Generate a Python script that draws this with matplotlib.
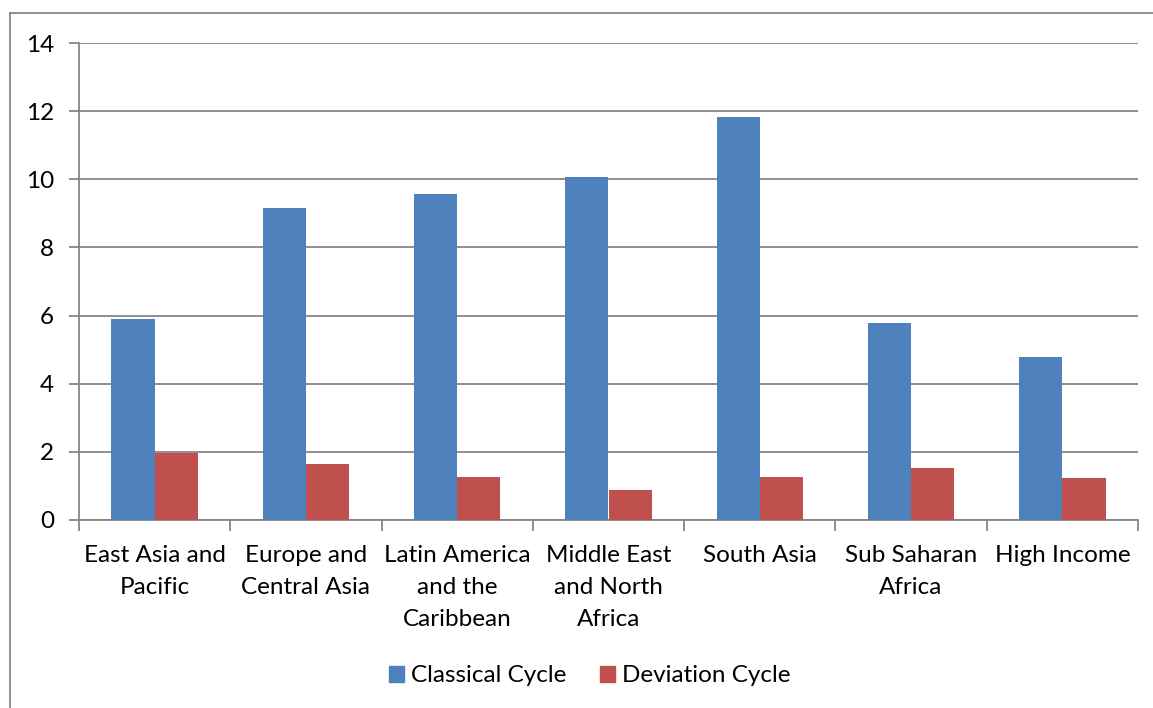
import matplotlib
matplotlib.use("Agg")
import matplotlib.pyplot as plt
from matplotlib.lines import Line2D
from matplotlib.patches import Patch
import numpy as np

plt.rcParams['font.family'] = ['Lato', 'DejaVu Sans']

regions = ['East Asia and\nPacific', 'Europe and\nCentral Asia', 'Latin America\nand the\nCaribbean',
           'Middle East\nand North\nAfrica', 'South Asia', 'Sub Saharan\nAfrica', 'High Income']
classical = [5.91, 9.17, 9.58, 10.07, 11.82, 5.77, 4.79]
deviation = [1.96, 1.65, 1.25, 0.89, 1.27, 1.52, 1.23]
yticks = [0, 2, 4, 6, 8, 10, 12, 14]

blue = '#4F81BD'
red = '#C0504D'
grey = '#868686'
fs = 17.5

fig = plt.figure(figsize=(11.53, 7.08), dpi=100)
ax = fig.add_axes([79 / 1153, 1 - 520 / 708, (1138 - 79) / 1153, (520 - 43) / 708])

# outer chart frame (cut off at right and bottom)
fig.add_artist(Line2D([10 / 1153, 10 / 1153], [0, 1 - 13 / 708], transform=fig.transFigure, color=grey, lw=1.3))
fig.add_artist(Line2D([10 / 1153, 1], [1 - 13 / 708, 1 - 13 / 708], transform=fig.transFigure, color=grey, lw=1.3))

x = np.arange(len(regions))
w = 1 / 3.5   # excel gap width 150%
ax.bar(x - w / 2, classical, w, color=blue, zorder=3, label='Classical Cycle')
ax.bar(x + w / 2, deviation, w, color=red, zorder=3, label='Deviation Cycle')

ax.set_xlim(-0.5, len(regions) - 0.5)
ax.set_ylim(0, 14)
ax.set_yticks(yticks)
ax.yaxis.grid(True, color=grey, lw=1.3, zorder=0)
ax.tick_params(axis='y', direction='out', length=7, width=1.3, color=grey, pad=11, labelsize=fs)

ax.set_xticks(x)
ax.set_xticklabels(regions, fontsize=fs, linespacing=1.65)
ax.set_xticks(np.arange(len(regions) + 1) - 0.5, minor=True)
ax.tick_params(axis='x', which='major', length=0, pad=18)
ax.tick_params(axis='x', which='minor', direction='out', length=8, width=1.3, color=grey)

for s in ['top', 'right']:
    ax.spines[s].set_visible(False)
for s in ['left', 'bottom']:
    ax.spines[s].set_color(grey)
    ax.spines[s].set_linewidth(1.3)

handles = [Patch(color=blue, label='Classical Cycle'), Patch(color=red, label='Deviation Cycle')]
fig.legend(handles=handles, loc='center', bbox_to_anchor=(590 / 1153, 1 - 676 / 708), ncol=2,
           frameon=False, fontsize=fs, handlelength=0.6, handleheight=0.6, handletextpad=0.3, columnspacing=1.4)

fig.savefig('out.png', dpi=100)
